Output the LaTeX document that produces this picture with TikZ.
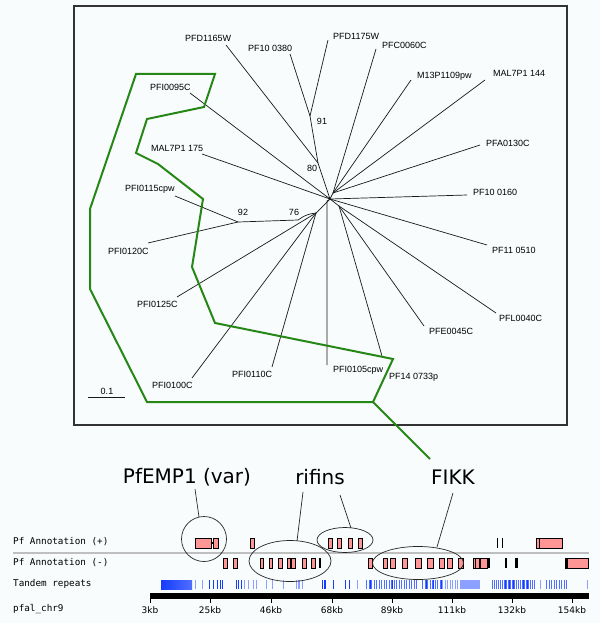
\documentclass[tikz,border=0pt]{standalone}
\usepackage{fontspec}
\setmainfont{Liberation Sans}
\newfontfamily\dvs{DejaVu Sans}
\newfontfamily\dvm{DejaVu Sans Mono}
\usetikzlibrary{shapes.geometric}
\definecolor{bg}{RGB}{248,252,252}
\definecolor{grn}{RGB}{38,135,22}
\definecolor{gene}{RGB}{255,150,150}
\definecolor{trdark}{RGB}{20,60,255}
\definecolor{trmid}{RGB}{80,110,255}
\definecolor{trlight}{RGB}{140,160,255}
\begin{document}
\begin{tikzpicture}[x=1pt,y=-1pt,
  leaf/.style={font=\fontsize{9}{9}\selectfont, anchor=west, inner sep=0pt},
  boot/.style={font=\fontsize{9}{9}\selectfont, inner sep=0pt},
  branch/.style={line width=0.7pt, black!90},
  hilite/.style={draw=grn, line width=2pt, line join=miter},
  callout/.style={draw=black!85, line width=0.7pt},
  ring/.style={ellipse, draw=black!85, line width=0.7pt, inner sep=0pt},
  big/.style={font=\dvs\fontsize{20}{20}\selectfont, inner sep=0pt},
  trk/.style={font=\dvm\fontsize{9.3}{9.3}\selectfont, anchor=west, inner sep=0pt},
  tick/.style={font=\dvs\fontsize{9}{9}\selectfont, inner sep=0pt},
  genebox/.style={draw=black, fill=gene, line width=0.5pt}]
\fill[bg] (0,0) rectangle (600,623);
\useasboundingbox (0,0) rectangle (600,623);

% tree frame
\draw[line width=1.3pt, black!80] (74,6) rectangle (567,425);

% internal nodes
\coordinate (H) at (330,199);
\coordinate (H2) at (333,193);
\coordinate (nL) at (339,206);
\coordinate (n80) at (318,163);
\coordinate (n91) at (310,116);
\coordinate (n92) at (238,222);
\coordinate (n76a) at (298,220);
\coordinate (n76) at (316,213);

% leaf ends
\coordinate (e1) at (226,45);
\coordinate (e2) at (290,54);
\coordinate (e3) at (328,40);
\coordinate (e4) at (376,49);
\coordinate (e5) at (411,80);
\coordinate (e6) at (485,80);
\coordinate (e7) at (480,145);
\coordinate (e8) at (467,195);
\coordinate (e9) at (487,245);
\coordinate (e10) at (496,313);
\coordinate (e11) at (424,326);
\coordinate (e12) at (382,356);
\coordinate (e13) at (327,365);
\coordinate (e14) at (272,367);
\coordinate (e15) at (192,378);
\coordinate (e16) at (177,297);
\coordinate (e17) at (148,243);
\coordinate (e18) at (175,196);
\coordinate (e19) at (202,154);
\coordinate (e20) at (190,93);

% leaf labels
\node[leaf] (l1) at (185,38) {PFD1165W};
\node[leaf] (l2) at (248,48) {PF10 0380};
\node[leaf] (l3) at (333,36) {PFD1175W};
\node[leaf] (l4) at (382,45) {PFC0060C};
\node[leaf] (l5) at (417,76) {M13P1109pw};
\node[leaf] (l6) at (493,73) {MAL7P1 144};
\node[leaf] (l7) at (486,143) {PFA0130C};
\node[leaf] (l8) at (473,192) {PF10 0160};
\node[leaf] (l9) at (492,250) {PF11 0510};
\node[leaf] (l10) at (499,318) {PFL0040C};
\node[leaf] (l11) at (429,331) {PFE0045C};
\node[leaf] (l12) at (389,377) {PF14 0733p};
\node[leaf] (l13) at (333,370) {PFI0105cpw};
\node[leaf] (l14) at (232,374) {PFI0110C};
\node[leaf] (l15) at (152,385) {PFI0100C};
\node[leaf] (l16) at (137,304) {PFI0125C};
\node[leaf] (l17) at (108,251) {PFI0120C};
\node[leaf] (l18) at (125,189) {PFI0115cpw};
\node[leaf] (l19) at (151,148) {MAL7P1 175};
\node[leaf] (l20) at (150,87) {PFI0095C};

% bootstrap values
\node[boot] (b91) at (322,121) {91};
\node[boot] (b80) at (312,168) {80};
\node[boot] (b92) at (243,212) {92};
\node[boot] (b76) at (294,212) {76};

% branches
\draw[branch] (e1) -- (n80);
\draw[branch] (e2) -- (n91);
\draw[branch] (e3) -- (n91);
\draw[branch] (n91) -- (n80) -- (H);
\draw[branch] (e4) -- (H2);
\draw[branch] (e5) -- (H2);
\draw[branch] (e6) -- (H2);
\draw[branch] (e7) -- (H2);
\draw[branch] (H2) -- (H);
\draw[branch] (e8) -- (H);
\draw[branch] (e9) -- (H);
\draw[branch] (e10) -- (nL);
\draw[branch] (e11) -- (nL);
\draw[branch] (e12) -- (nL);
\draw[branch] (nL) -- (H);
\draw[branch] (e13) -- (327,201) -- (H);
\draw[branch] (e14) -- (n76);
\draw[branch] (e15) -- (n76);
\draw[branch] (e16) -- (n76);
\draw[branch] (e17) -- (n92);
\draw[branch] (e18) -- (n92);
\draw[branch] (n92) -- (n76a) to[bend left=15] (n76) -- (H);
\draw[branch] (e19) -- (H);
\draw[branch] (e20) -- (H);

% scale bar
\node[boot] (sc) at (107,391) {0.1};
\draw[branch] (88,397) -- (125,397);

% green highlight
\coordinate (g1) at (373,402);
\coordinate (g2) at (430,459);
\draw[hilite] (136,74) -- (215,74) -- (204,107) -- (147,119) -- (136,153) -- (158,164)
  -- (203,199) -- (192,267) -- (215,323) -- (393,359) -- (g1) -- (147,402)
  -- (90,289) -- (90,209) -- cycle;
\draw[hilite] (g1) -- (g2);

% big labels
\node[big] (tEMP) at (187,477) {PfEMP1 (var)};
\node[big] (tRif) at (320,477) {rifins};
\node[big] (tFIKK) at (453,477) {FIKK};

% track labels
\node[trk] (tp) at (13,542) {Pf Annotation (+)};
\node[trk] (tm) at (13,563) {Pf Annotation (-)};
\node[trk] (tt) at (13,584) {Tandem repeats};
\node[trk] (tc) at (13,609) {pfal\_chr9};

% separator
\draw[black!25, line width=1.4pt] (13,553) -- (589,553);

% tandem repeats
\shade[left color=trdark, right color=trmid] (161,580) rectangle (192,589);
\foreach \x in {209,213,217,220,222,236,238,241,322,323.5,325,333,345,349,
  370,376,381,386,392,399,404,411,426,433,441,492,496,500,505,509,513,518,523,527,532}
  {\fill[trdark] (\x,580) rectangle ++(1.2,9);}
\foreach \x in {195,202,244,248,253,256,266,272,283,296,297.5,299,302,357,540,587}
  {\fill[trlight] (\x,580) rectangle ++(1,9);}
\foreach \x in {366,368.5,...,416}
  {\fill[trmid] (\x,580) rectangle ++(1.1,9);}
\foreach \x in {422,424.5,...,450}
  {\fill[trmid] (\x,580) rectangle ++(1.1,9);}
\foreach \x in {442,444.5,...,460}
  {\fill[trlight] (\x,580) rectangle ++(1.1,9);}
\fill[trlight] (460,580) rectangle (480,589);
\foreach \x in {492,494,...,535}
  {\fill[trmid] (\x,580) rectangle ++(1.2,9);}
\foreach \x in {546,548.5,...,568}
  {\fill[trmid] (\x,580) rectangle ++(1.1,9);}

% chromosome bar and ticks
\fill[black] (150,593) rectangle (589,599);
\foreach \x/\t [count=\i] in {150/3kb,210/25kb,271/46kb,332/68kb,392/89kb,452/111kb,512/132kb,572/154kb}
  {\draw[black, line width=0.6pt] (\x,599) -- (\x,603);
   \node[tick] (k\i) at (\x,610) {\t};}

% genes (+) strand
\draw[genebox] (195,538) rectangle (211,548);
\draw[black, line width=1.2pt] (211,543) -- (213,543);
\draw[genebox] (213,538) rectangle (218,548);
\draw[genebox] (250.5,538) rectangle (254,548);
\foreach \a in {328,337,348,358}
  {\draw[genebox] (\a,538) rectangle ++(4,10);}
\fill[black] (496.5,538) rectangle (498,548);
\fill[black] (501.5,538) rectangle (503,548);
\draw[genebox] (536,538) rectangle (562,548);
\draw[black, line width=1pt] (539,538) -- (539,548);

% genes (-) strand
\foreach \a/\b in {223/227,233/237,260/263,269/272,278/282,287/290,291/295,302/306,311/315,
  368/372,383/387,390/395,402/407,415/421,427/433,439/444,447/452,458/463,473/479,480/487,565/588}
  {\draw[genebox] (\a,558) rectangle (\b,568);}
\fill[black] (319,558) rectangle (320.5,568);
\fill[black] (368,558) rectangle (369.2,568);
\fill[black] (475,558) rectangle (476.3,568);
\fill[black] (487,558) rectangle (490,568);
\fill[black] (505,558) rectangle (507,568);
\fill[black] (515,558) rectangle (518,568);
\fill[black] (565,558) rectangle (568,568);

% callout rings and lines
\node[ring, minimum width=45pt, minimum height=45pt] (cEMP) at (204,539) {};
\node[ring, minimum width=82pt, minimum height=41pt] (cRifM) at (290,561) {};
\node[ring, minimum width=56pt, minimum height=25pt] (cRifP) at (345,540) {};
\node[ring, minimum width=91pt, minimum height=33pt] (cFIKK) at (418,563) {};
\coordinate (a1) at (195,489);
\coordinate (a2) at (303,492);
\coordinate (a3) at (340,495);
\coordinate (a4) at (453,493);
\draw[callout] (a1) -- (199,517);
\draw[callout] (a2) -- (297,541);
\draw[callout] (a3) -- (351,528);
\draw[callout] (a4) -- (437,547);
\end{tikzpicture}
\end{document}
